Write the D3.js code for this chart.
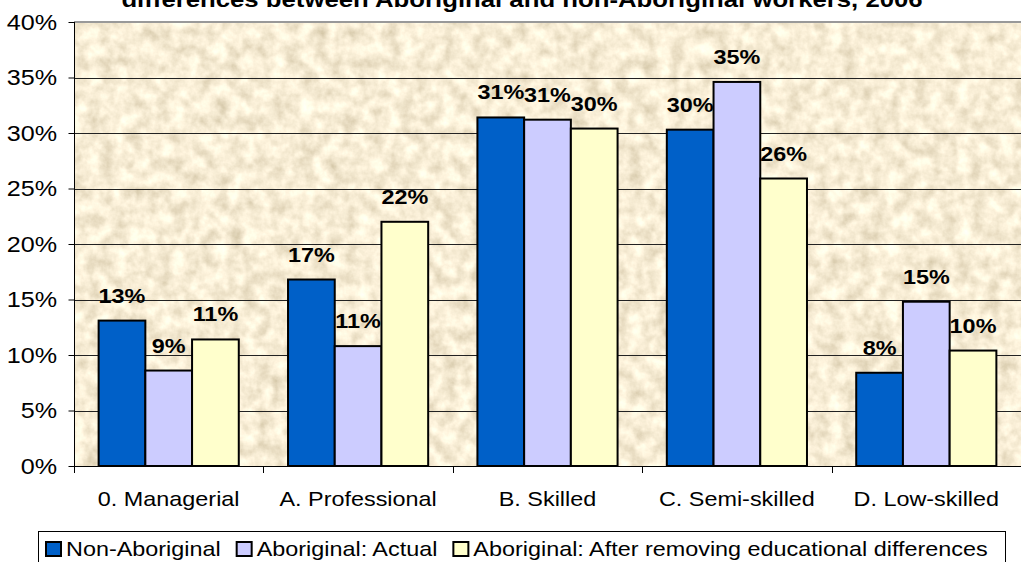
<!DOCTYPE html>
<html>
<head>
<meta charset="utf-8">
<script src="https://cdn.jsdelivr.net/npm/d3@7"></script>
<style>
  body { margin: 0; background: #fff; }
  svg text { font-family: Arial, "Liberation Sans", sans-serif; }
</style>
</head>
<body>
<div class="chart"></div>
<script>
// data
var categories = ['0. Managerial', 'A. Professional', 'B. Skilled', 'C. Semi-skilled', 'D. Low-skilled'];
var seriesNames = ['Non-Aboriginal', 'Aboriginal: Actual', 'Aboriginal: After removing educational differences'];
var nonAboriginal = [13.1, 16.8, 31.4, 30.3, 8.4];
var aboriginalActual = [8.6, 10.8, 31.2, 34.6, 14.8];
var aboriginalAdjusted = [11.4, 22.0, 30.4, 25.9, 10.4];
var yTicks = [0, 5, 10, 15, 20, 25, 30, 35, 40];
var colors = ['#0060c8', '#ccccff', '#ffffcc'];

var title = 'differences between Aboriginal and non-Aboriginal workers, 2006';

var width = 1021, height = 562;
var plot = { left: 74, right: 1021, top: 22, bottom: 466 };
var sx = 1.17; // the original picture is stretched sideways

var svg = d3.select('.chart').append('svg')
  .attr('width', width)
  .attr('height', height);

// adds a text that is stretched sideways around its anchor point
function addText(parent, x, y, str, size, anchor, bold) {
  return parent.append('text')
    .attr('transform', 'translate(' + x + ',' + y + ') scale(' + sx + ',1)')
    .attr('text-anchor', anchor)
    .attr('font-size', size)
    .attr('font-weight', bold ? 'bold' : 'normal')
    .text(str);
}

// parchment texture
var defs = svg.append('defs');
var filt = defs.append('filter').attr('id', 'paper')
  .attr('x', 0).attr('y', 0).attr('width', 1).attr('height', 1);
filt.append('feTurbulence')
  .attr('type', 'fractalNoise')
  .attr('baseFrequency', '0.07')
  .attr('numOctaves', 4)
  .attr('seed', 3)
  .attr('result', 'noise');
filt.append('feColorMatrix')
  .attr('in', 'noise')
  .attr('type', 'matrix')
  .attr('values', '0.6 0 0 0 0.64  0.6 0 0 0 0.55  0.6 0 0 0 0.37  0 0 0 0 1')
  .attr('result', 'tint');
filt.append('feComposite').attr('in', 'tint').attr('in2', 'SourceGraphic').attr('operator', 'in');

var x0 = d3.scaleBand().domain(categories).range([plot.left, plot.right]).paddingInner(0.26).paddingOuter(0.13);
var x1 = d3.scaleBand().domain(d3.range(3)).range([0, x0.bandwidth()]);
var y = d3.scaleLinear().domain([0, 40]).range([plot.bottom, plot.top]);

svg.append('rect')
  .attr('x', plot.left).attr('y', plot.top)
  .attr('width', plot.right - plot.left).attr('height', plot.bottom - plot.top)
  .attr('fill', '#eedcb6')
  .attr('filter', 'url(#paper)');

// title (cut at top)
addText(svg, 522, 7, title, 22, 'middle', true);

// gridlines
svg.append('g').selectAll('line')
  .data(yTicks.filter(function(d){ return d > 0 && d < 40; }))
  .enter().append('line')
  .attr('x1', plot.left).attr('x2', plot.right)
  .attr('y1', function(d){ return Math.round(y(d)) + 0.5; })
  .attr('y2', function(d){ return Math.round(y(d)) + 0.5; })
  .attr('stroke', '#222').attr('stroke-width', 1);

// top border of plot
svg.append('line')
  .attr('x1', plot.left).attr('x2', plot.right)
  .attr('y1', plot.top).attr('y2', plot.top)
  .attr('stroke', '#999').attr('stroke-width', 2);

// y axis
var yAxis = d3.axisLeft(y).tickValues(yTicks).tickSize(6).tickFormat('');
var gy = svg.append('g').attr('transform', 'translate(' + (plot.left + 0.5) + ',0)').call(yAxis);
gy.selectAll('line, path').attr('stroke', '#000');
gy.select('.domain').attr('d', 'M0,' + plot.top + 'V' + (plot.bottom + 7));
yTicks.forEach(function(t){
  addText(svg, 57, y(t) + 7.5, t + '%', 21.5, 'end', false);
});

// bars
var series = [nonAboriginal, aboriginalActual, aboriginalAdjusted];
var rows = categories.map(function(c, i){
  return series.map(function(s, j){ return { cat: c, k: j, v: s[i] }; });
});

var groups = svg.append('g').selectAll('g')
  .data(rows).enter().append('g')
  .attr('transform', function(d){ return 'translate(' + x0(d[0].cat) + ',0)'; });

groups.selectAll('rect')
  .data(function(d){ return d; })
  .enter().append('rect')
  .attr('x', function(d){ return x1(d.k); })
  .attr('y', function(d){ return y(d.v); })
  .attr('width', x1.bandwidth())
  .attr('height', function(d){ return y(0) - y(d.v); })
  .attr('fill', function(d){ return colors[d.k]; })
  .attr('stroke', '#000').attr('stroke-width', 2);

groups.each(function(row){
  var g = d3.select(this);
  row.forEach(function(d){
    addText(g, x1(d.k) + x1.bandwidth() / 2, y(d.v) - 18, Math.round(d.v) + '%', 20, 'middle', true);
  });
});

// x axis
svg.append('line')
  .attr('x1', plot.left).attr('x2', plot.right)
  .attr('y1', plot.bottom + 0.5).attr('y2', plot.bottom + 0.5)
  .attr('stroke', '#000');
var step = x0.step();
svg.append('g').selectAll('line')
  .data(d3.range(categories.length + 1))
  .enter().append('line')
  .attr('x1', function(i){ return Math.round(plot.left + i * step) + 0.5; })
  .attr('x2', function(i){ return Math.round(plot.left + i * step) + 0.5; })
  .attr('y1', plot.bottom).attr('y2', plot.bottom + 7)
  .attr('stroke', '#000');

categories.forEach(function(c){
  addText(svg, x0(c) + x0.bandwidth() / 2, 506, c, 20, 'middle', false);
});

// legend
svg.append('rect')
  .attr('x', 38.5).attr('y', 531.5)
  .attr('width', 967).attr('height', 40)
  .attr('fill', '#fff').attr('stroke', '#000');

var lx = 46;
seriesNames.forEach(function(name, i){
  svg.append('rect')
    .attr('x', lx).attr('y', 542)
    .attr('width', 15).attr('height', 14)
    .attr('fill', colors[i]).attr('stroke', '#000').attr('stroke-width', 2);
  var t = addText(svg, lx + 20, 556, name, 20, 'start', false);
  lx += 20 + t.node().getComputedTextLength() * sx + 16;
});
</script>
</body>
</html>
